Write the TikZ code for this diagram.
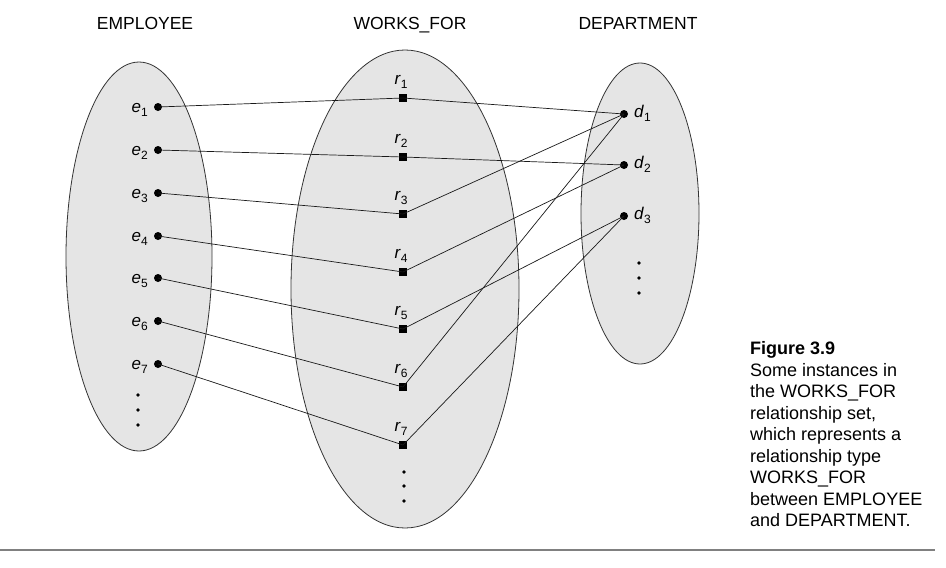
\documentclass[tikz,border=0pt]{standalone}
\usepackage{fontspec}
\setmainfont{Liberation Sans}
\newcommand\sublab[2]{\textit{#1}\raisebox{-4pt}{\fontsize{12}{12}\selectfont #2}}
\begin{document}
\begin{tikzpicture}[x=1pt,y=-1pt,
  setfill/.style={draw=black!80, fill=black!10, line width=0.8pt},
  ent/.style={circle, fill=black, inner sep=0pt, minimum size=8pt},
  rel/.style={rectangle, fill=black, inner sep=0pt, minimum size=8pt},
  tinydot/.style={circle, fill=black, inner sep=0pt, minimum size=3.6pt},
  conn/.style={line width=0.7pt, black!90},
  title/.style={font=\fontsize{17.5}{21}\selectfont, anchor=base, inner sep=0pt},
  lbl/.style={font=\fontsize{17}{20}\selectfont},
  captext/.style={font=\fontsize{18}{21}\selectfont, anchor=base west, inner sep=0pt},
  rule/.style={draw=black!50, line width=1.6pt}]
\useasboundingbox (0,0) rectangle (946,568);
% sets
\path[setfill] (139,256.5) ellipse [x radius=73, y radius=194.5];
\path[setfill] (405,289) ellipse [x radius=114, y radius=239];
\path[setfill] (640,213.5) ellipse [x radius=59, y radius=150.5];
% titles
\node[title] (tEmp) at (145,29) {EMPLOYEE};
\node[title] (tWf) at (410,29) {WORKS\_FOR};
\node[title] (tDep) at (638,29) {DEPARTMENT};
% employees
\foreach \i/\y in {1/107,2/150,3/193,4/236,5/278,6/321,7/364}{
  \node[ent] (e\i) at (158,\y) {};
  \node[lbl, anchor=base east, inner sep=0pt] (le\i) at ([xshift=-10pt,yshift=-5.5pt]e\i.center) {\sublab{e}{\i}};
}
\foreach \i/\y in {1/395,2/410,3/425}{\node[tinydot] (ed\i) at (138,\y) {};}
% relationships
\foreach \i/\y in {1/98,2/157,3/214,4/272,5/329,6/387,7/445}{
  \node[rel] (r\i) at (403,\y) {};
  \node[lbl, anchor=base, inner sep=0pt] (lr\i) at ([xshift=-2pt,yshift=14pt]r\i.center) {\sublab{r}{\i}};
}
\foreach \i/\y in {1/472,2/486,3/501}{\node[tinydot] (rd\i) at (404,\y) {};}
% departments
\foreach \i/\y in {1/114,2/165,3/216}{
  \node[ent] (d\i) at (624,\y) {};
  \node[lbl, anchor=base west, inner sep=0pt] (ld\i) at ([xshift=10pt,yshift=-3.5pt]d\i.center) {\sublab{d}{\i}};
}
\foreach \i/\y in {1/263,2/278,3/293}{\node[tinydot] (dd\i) at (639,\y) {};}
% connectors
\foreach \i in {1,...,7}{\draw[conn] (e\i.center) -- (r\i.center);}
\foreach \r/\d in {1/1,2/2,3/1,4/2,5/3,6/1,7/3}{\draw[conn] (r\r.center) -- (d\d.center);}
% caption
\node[captext, font=\fontsize{18}{21}\selectfont\bfseries] (c0) at (750,354.5) {Figure 3.9};
\node[captext] (c1) at (750,376) {Some instances in};
\node[captext] (c2) at (750,397.5) {the WORKS\_FOR};
\node[captext] (c3) at (750,419) {relationship set,};
\node[captext] (c4) at (750,440.5) {which represents a};
\node[captext] (c5) at (750,462) {relationship type};
\node[captext] (c6) at (750,483.5) {WORKS\_FOR};
\node[captext] (c7) at (750,505) {between EMPLOYEE};
\node[captext] (c8) at (750,526.5) {and DEPARTMENT.};
% bottom rule
\coordinate (ruleL) at (0,550);
\coordinate (ruleR) at (935,550);
\draw[rule] (ruleL) -- (ruleR);
\end{tikzpicture}
\end{document}
